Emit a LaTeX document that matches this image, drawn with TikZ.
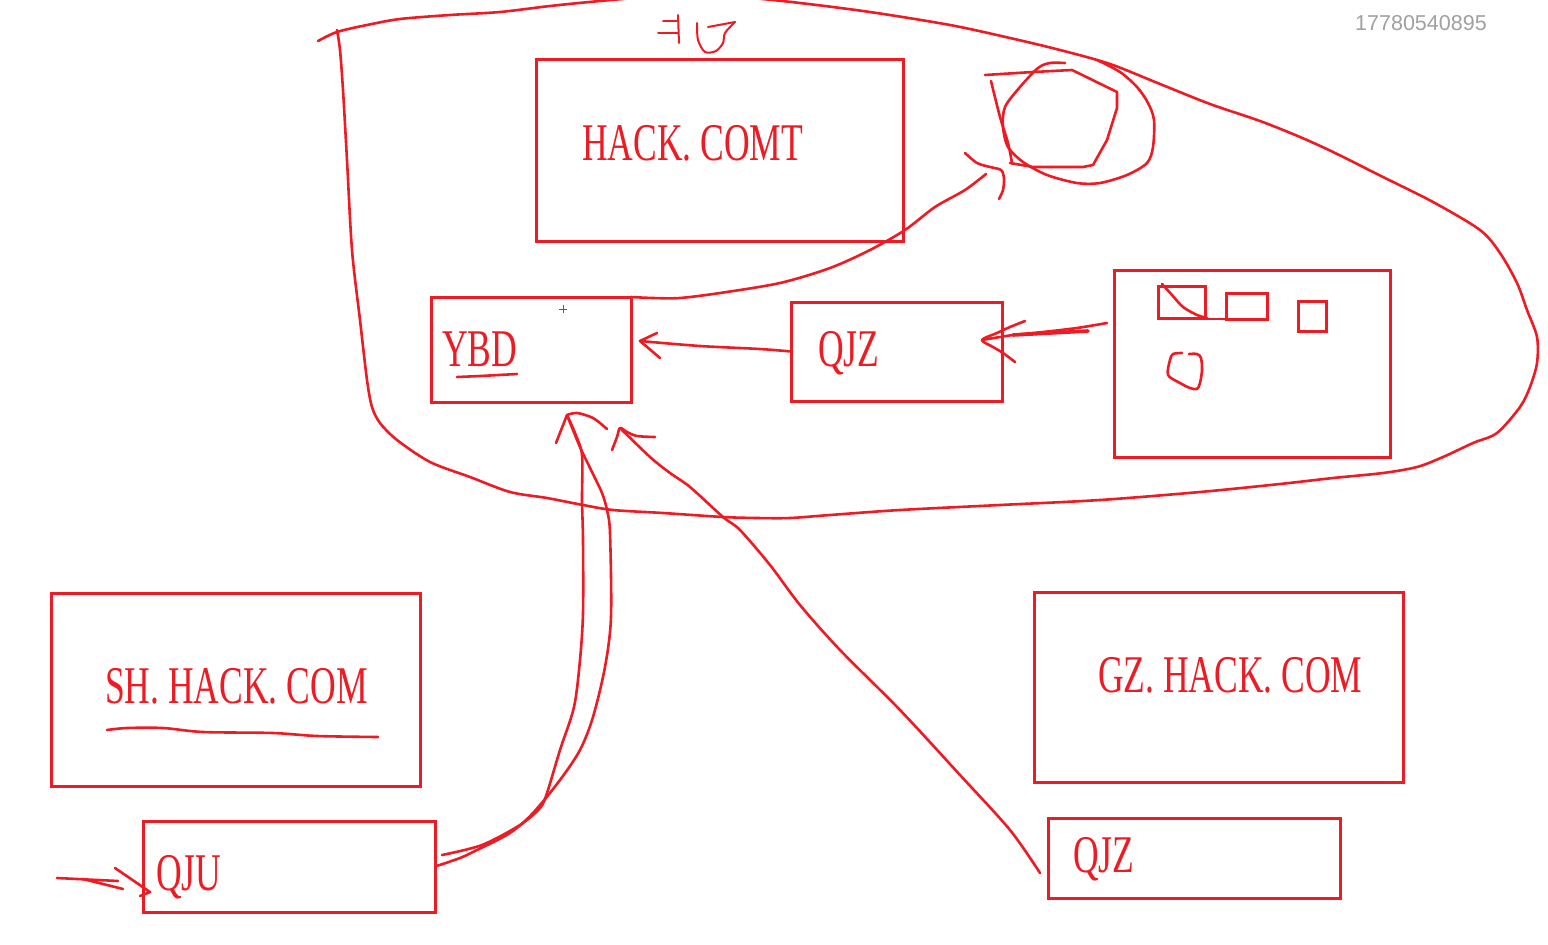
\documentclass[tikz,border=0pt]{standalone}
\usepackage{fontspec}
\setmainfont{Liberation Serif}
\newfontfamily\hw[FakeStretch=0.67]{Liberation Serif}
\newfontfamily\wm{Liberation Sans}
\definecolor{pen}{RGB}{237,28,36}
\definecolor{wmgray}{RGB}{160,160,160}
\begin{document}
\begin{tikzpicture}[x=1pt,y=-1pt,
  ink/.style={draw=pen, line width=2.6pt, line cap=round, line join=round},
  thinink/.style={draw=pen, line width=2pt, line cap=round, line join=round},
  box/.style={draw=pen, line width=3pt, inner sep=0pt, outer sep=0pt, rectangle},
  lbl/.style={text=pen, font=\hw\fontsize{53}{53}\selectfont, anchor=base west, inner sep=0pt},
  curve/.style={ink, smooth, tension=0.5}]
\useasboundingbox (0,0) rectangle (1548,945);
\fill[white] (0,0) rectangle (1548,945);

% watermark
\node[text=wmgray, font=\wm\fontsize{21.5}{21.5}\selectfont, anchor=base west, inner sep=0pt] (wm) at (1355,30) {17780540895};

% boxes
\node[box, minimum width=367pt, minimum height=182pt] (hack) at (719.5,150) {};
\node[box, minimum width=200pt, minimum height=105pt] (ybd) at (531,349.5) {};
\node[box, minimum width=211pt, minimum height=99pt] (qjza) at (896.5,351.5) {};
\node[box, minimum width=276pt, minimum height=187pt] (rbox) at (1252,363.5) {};
\node[box, minimum width=369pt, minimum height=193pt] (sh) at (235.5,689.5) {};
\node[box, minimum width=292pt, minimum height=91pt] (qju) at (289,866.5) {};
\node[box, minimum width=369pt, minimum height=190pt] (gz) at (1218.5,687) {};
\node[box, minimum width=292pt, minimum height=80pt] (qjzb) at (1194,858) {};

% labels
\node[lbl] (thack) at (582,160) {HACK. COMT};
\node[lbl] (tybd) at (442,366) {YBD};
\node[lbl] (tqjza) at (818,366) {QJZ};
\node[lbl] (tsh) at (105,703) {SH. HACK. COM};
\node[lbl] (tqju) at (156,890) {QJU};
\node[lbl] (tgz) at (1098,692) {GZ. HACK. COM};
\node[lbl] (tqjzb) at (1073,872) {QJZ};

% underlines
\draw[curve] plot coordinates {(457,377) (480,376) (517,374)};
\draw[curve] plot coordinates {(107,730) (127,728) (163,728) (203,732) (273,733) (317,736) (378,737)};

% small plus inside YBD
\draw[pen, line width=1pt] (559,309) -- (567,309) (563,305) -- (563,313);

% big loop
\draw[curve] plot coordinates {(318,41) (337,32) (367,25) (400,19) (450,15) (500,12) (550,6) (600,1) (650,-3) (700,-4) (750,-2) (800,3) (870,12) (950,25) (1010,38) (1060,50) (1110,64) (1160,84) (1210,104) (1260,121) (1300,137) (1333,152) (1383,177) (1433,202) (1480,230) (1500,253) (1517,283) (1527,310) (1537,337) (1537,363) (1530,387) (1520,407) (1497,433) (1473,443) (1443,457) (1417,467) (1383,473) (1333,478) (1280,484) (1200,492) (1100,500) (1000,505) (900,510) (830,515) (790,518) (757,518) (723,517) (663,513) (613,510) (583,505) (547,498) (510,492) (470,477) (430,462) (397,440) (380,423) (372,407) (367,380) (360,320) (352,250) (347,160) (343,90) (340,50) (337,30)};

% scribble at top
\draw[thinink] (663,21) -- (677,21);
\draw[thinink] (658,33) -- (678,33);
\draw[thinink] (678,15) -- (679,43);
\draw[thinink, smooth] plot coordinates {(697,23) (698,40) (705,52) (716,51) (723,43) (725,33) (735,22)};
\draw[thinink] (708,27) -- (735,22);

% circle scribble
\draw[ink] plot coordinates {(985,75) (1033,72) (1072,70) (1117,92) (1117,108) (1107,140) (1093,165) (1083,167) (1033,167) (1010,163)};
\draw[curve] plot coordinates {(991,81) (1000,117) (1008,143) (1012,163)};
\draw[curve] plot coordinates {(1065,63) (1050,63) (1038,68) (1020,87) (1005,107) (1003,127) (1008,147) (1023,162) (1047,175) (1077,183) (1100,183) (1127,175) (1147,163) (1153,147) (1154,120) (1148,103) (1137,87) (1120,72) (1097,60)};

% connector YBD -> circle
\coordinate (ctip) at (1001,170);
\draw[curve] plot coordinates {(ybd.north east) (653,298) (680,298) (720,293) (780,283) (830,268) (870,250) (905,230) (935,207) (965,190) (986,174)};
\draw[curve] plot coordinates {(965,153) (977,163) (990,167) (ctip) (1004,178) (1003,190) (999,199)};

% connector QJZ(top) -> YBD
\coordinate (ybdtip) at (640,341);
\draw[curve] plot coordinates {(qjza.west) (760,349) (700,346) (ybdtip)};
\draw[ink] (657,333) -- (ybdtip) -- (660,358);

% connector right box -> QJZ(top)
\coordinate (qjtip) at (982,340);
\draw[curve] plot coordinates {(1107,323) (1077,328) (1043,332) (1013,335) (qjtip)};
\draw[ink, line width=3.6pt] (1088,331) -- (1013,335);
\draw[curve] plot coordinates {(1025,321) (1010,327) (997,333) (qjtip) (993,347) (1003,353) (1015,362)};

% contents of right box
\draw[box] (1158,286) rectangle (1205,318);
\draw[curve] plot coordinates {(1162,284) (1172,295) (1183,307) (1197,315) (1207,318)};
\draw[ink] (1207,319) -- (1226,319);
\draw[box] (1226,293) rectangle (1267,319);
\draw[box] (1298,301) rectangle (1326,331);
\draw[curve] plot coordinates {(1182,353) (1173,354) (1170,360) (1168,375) (1180,383) (1190,388) (1197,389) (1200,383) (1202,370) (1201,358) (1197,354) (1189,354)};

% connector QJU -> YBD (double stroke)
\coordinate (ytip) at (567,415);
\draw[curve] plot coordinates {(442,855) (482,845) (520,825) (540,808) (547,793) (560,750) (574,707) (580,660) (583,613) (583,540) (582,500) (582,455) (575,433) (ytip)};
\draw[curve] plot coordinates {(qju.east) (460,858) (477,850) (510,833) (533,813) (560,780) (580,750) (593,717) (605,667) (611,617) (610,533) (607,510) (602,493) (592,472) (580,447) (ytip)};
\draw[ink] (556,443) -- (ytip);
\draw[curve] plot coordinates {(ytip) (577,413) (593,418) (607,429)};

% connector QJZ(bottom) -> YBD
\coordinate (ztip) at (620,428);
\draw[curve] plot coordinates {(1040,873) (1010,830) (960,775) (900,710) (840,650) (800,605) (770,565) (740,530) (723,517) (690,487) (670,473) (650,457) (ztip)};
\draw[curve] plot coordinates {(612,450) (617,437) (ztip) (627,432) (637,436) (655,437)};

% incoming arrow to QJU
\coordinate (qjutip) at (150,892);
\draw[ink] (57,878) -- (118,881);
\draw[ink] (83,879) -- (123,889);
\draw[ink] (115,868) -- (qjutip) -- (140,896);
\end{tikzpicture}
\end{document}
